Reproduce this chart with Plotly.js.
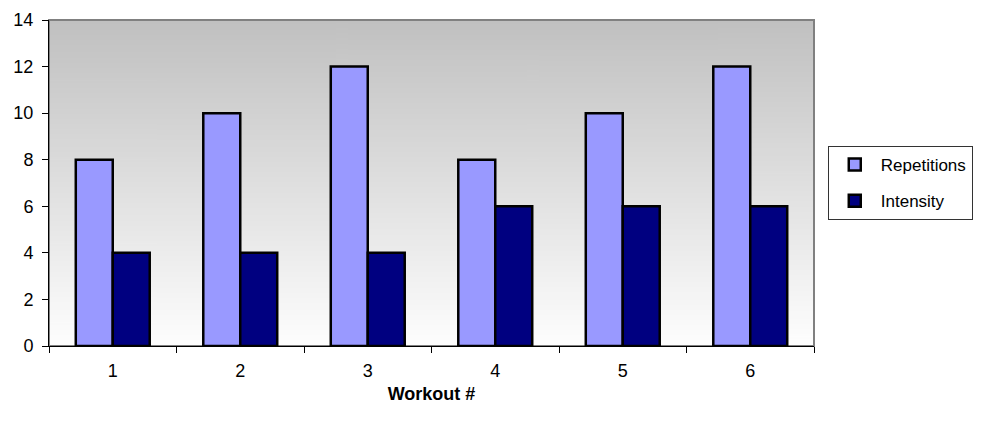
<!DOCTYPE html>
<html>
<head>
<meta charset="utf-8">
<script src="https://cdn.plot.ly/plotly-3.0.1.min.js"></script>
<style>html,body{margin:0;padding:0;background:#fff;}#chart{width:990px;height:428px;}</style>
</head>
<body>
<div id="chart"></div>
<script>
var workouts = ['1', '2', '3', '4', '5', '6'];
var repetitions = [8, 10, 12, 8, 10, 12];
var intensity = [4, 4, 4, 6, 6, 6];
var yTicks = [0, 2, 4, 6, 8, 10, 12, 14];

function gradientURL() {
  var c = document.createElement('canvas');
  c.width = 4; c.height = 256;
  var g = c.getContext('2d');
  var gr = g.createLinearGradient(0, 0, 0, 256);
  gr.addColorStop(0, '#c0c0c0');
  gr.addColorStop(1, '#fefefe');
  g.fillStyle = gr;
  g.fillRect(0, 0, 4, 256);
  return c.toDataURL('image/png');
}

var fam = 'Liberation Sans, Arial, sans-serif';
var font = {family: fam, size: 18, color: '#000'};

var traces = [
  {type: 'bar', name: 'Repetitions', x: workouts, y: repetitions, legendgroup: 'a',
   marker: {color: '#9999ff', line: {color: '#000', width: 2.5}}},
  {type: 'bar', name: 'Intensity', x: workouts, y: intensity, legendgroup: 'b',
   marker: {color: '#000080', line: {color: '#000', width: 2.5}}}
];

var layout = {
  width: 990, height: 428,
  margin: {l: 49, r: 176, t: 20, b: 82},
  paper_bgcolor: '#fff',
  plot_bgcolor: 'rgba(0,0,0,0)',
  font: font,
  barmode: 'group',
  bargap: 0.42,
  bargroupgap: 0,
  showlegend: true,
  legend: {
    x: 1.018, xanchor: 'left', y: 0.5, yanchor: 'middle',
    bordercolor: '#333', borderwidth: 1, bgcolor: '#fff',
    font: {family: fam, size: 17, color: '#000'},
    traceorder: 'grouped', tracegroupgap: 11,
    entrywidth: 165, itemwidth: 42
  },
  xaxis: {
    type: 'category',
    tickson: 'boundaries', ticks: 'outside', ticklen: 6, tickcolor: '#000', tickwidth: 1,
    showline: true, linecolor: '#000', linewidth: 1,
    showgrid: false, zeroline: false,
    tickfont: font, ticklabelstandoff: 8,
    title: {text: '<b>Workout #</b>', font: {family: fam, size: 18, color: '#000'}, standoff: 7}
  },
  yaxis: {
    range: [0, 14], tickvals: yTicks, ticks: 'outside', ticklen: 6, tickcolor: '#000', tickwidth: 1,
    showline: true, linecolor: '#000', linewidth: 1,
    showgrid: false, zeroline: false,
    tickfont: font, ticklabelstandoff: 5
  },
  images: [{
    source: gradientURL(), xref: 'paper', yref: 'paper', x: 0, y: 1,
    sizex: 1, sizey: 1, sizing: 'stretch', layer: 'below', xanchor: 'left', yanchor: 'top'
  }],
  shapes: [{
    type: 'rect', xref: 'paper', yref: 'paper', x0: 0, x1: 1, y0: 0, y1: 1,
    line: {color: '#808080', width: 2}, layer: 'below'
  }]
};

Plotly.newPlot('chart', traces, layout, {displayModeBar: false, staticPlot: true});
</script>
</body>
</html>
